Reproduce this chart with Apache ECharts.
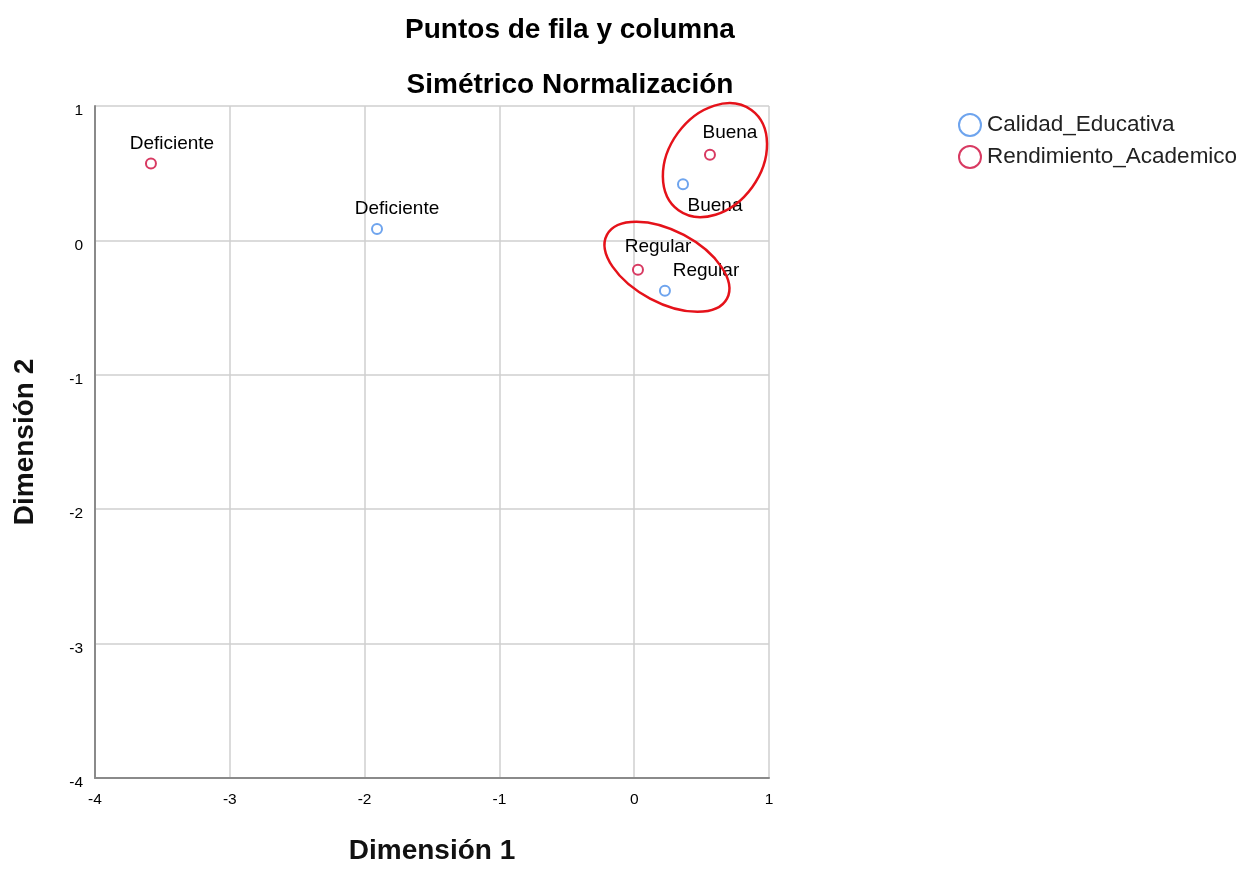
<!DOCTYPE html>
<html>
<head>
<meta charset="utf-8">
<script src="https://cdn.jsdelivr.net/npm/echarts@6/dist/echarts.min.js"></script>
<style>html,body{margin:0;padding:0;background:#fff;}#c{width:1251px;height:870px;}</style>
</head>
<body>
<div id="c"></div>
<script>
// ---- data ----
var titleLines = ['Puntos de fila y columna', 'Simétrico Normalización'];
var xAxisName = 'Dimensión 1';
var yAxisName = 'Dimensión 2';
var seriesNames = ['Calidad_Educativa', 'Rendimiento_Academico'];
var calidadLabels = ['Deficiente', 'Buena', 'Regular'];
var calidadX = [-1.908, 0.362, 0.228];
var calidadY = [0.084, 0.417, -0.374];
var rendLabels = ['Deficiente', 'Buena', 'Regular'];
var rendX = [-3.585, 0.562, 0.028];
var rendY = [0.572, 0.638, -0.219];
var xTicks = [-4, -3, -2, -1, 0, 1];
var yTicks = [-4, -3, -2, -1, 0, 1];
// annotation ellipses (centers in data units)
var ellipseCX = [0.599, 0.243];
var ellipseCY = [0.597, -0.196];

// ---- styles (label placement, ellipse shapes) ----
var calidadLabelOffsets = [[20, -20], [32, 21], [41, -20]];
var rendLabelOffsets = [[21, -20], [20, -22], [20, -23]];
var ellipseShapes = [{rx: 62, ry: 46, rot: 54}, {rx: 68, ry: 36, rot: -28}];

var BLUE = '#6ea4ee';
var RED = '#d83a62';
var FONT = 'Liberation Sans, Arial, sans-serif';

function buildPoints(xs, ys, labels, offsets) {
  return xs.map(function (x, i) {
    return {
      value: [x, ys[i]],
      name: labels[i],
      label: { offset: offsets[i] }
    };
  });
}

var chart = echarts.init(document.getElementById('c'), null, { renderer: 'canvas' });

var labelCfg = {
  show: true,
  position: 'inside',
  formatter: '{b}',
  color: '#000',
  textBorderWidth: 0,
  textBorderColor: 'transparent',
  fontFamily: FONT,
  fontSize: 19
};

var option = {
  backgroundColor: '#fff',
  animation: false,
  title: [
    { text: titleLines[0], left: 570, top: 16, textAlign: 'center', padding: 0,
      textStyle: { fontFamily: FONT, fontSize: 28, fontWeight: 'bold', color: '#000' } },
    { text: titleLines[1], left: 570, top: 71, textAlign: 'center', padding: 0,
      textStyle: { fontFamily: FONT, fontSize: 28, fontWeight: 'bold', color: '#000' } }
  ],
  legend: {
    data: seriesNames,
    orient: 'vertical',
    left: 958,
    top: 113,
    itemWidth: 22,
    itemHeight: 22,
    itemGap: 8,
    padding: 0,
    itemStyle: { opacity: 1, borderWidth: 2 },
    textStyle: { fontFamily: FONT, fontSize: 22.5, color: '#222', padding: [0, 0, 0, 1] }
  },
  grid: { left: 95, right: 482, top: 106, bottom: 87, containLabel: false },
  xAxis: {
    type: 'value', min: xTicks[0], max: xTicks[xTicks.length - 1], interval: 1,
    name: xAxisName, nameLocation: 'middle', nameGap: 59,
    nameTextStyle: { fontFamily: FONT, fontSize: 28, fontWeight: 'bold', color: '#111' },
    axisLine: { show: true, onZero: false, lineStyle: { color: '#8a8a8a', width: 2 } },
    axisTick: { show: false },
    axisLabel: { margin: 14, fontFamily: FONT, fontSize: 15.5, color: '#000' },
    splitLine: { show: true, lineStyle: { color: '#cfcfcf', width: 1.5 } }
  },
  yAxis: {
    type: 'value', min: yTicks[0], max: yTicks[yTicks.length - 1], interval: 1,
    name: yAxisName, nameLocation: 'middle', nameGap: 56,
    nameTextStyle: { fontFamily: FONT, fontSize: 28, fontWeight: 'bold', color: '#111' },
    axisLine: { show: true, onZero: false, lineStyle: { color: '#8a8a8a', width: 2 } },
    axisTick: { show: false },
    axisLabel: { margin: 12, fontFamily: FONT, fontSize: 15.5, color: '#000', verticalAlign: 'top', padding: [-3, 0, 0, 0] },
    splitLine: { show: true, lineStyle: { color: '#cfcfcf', width: 1.5 } }
  },
  series: [
    {
      name: seriesNames[0], type: 'scatter', symbol: 'emptyCircle', symbolSize: 10,
      itemStyle: { color: BLUE, borderColor: BLUE, borderWidth: 2, opacity: 1 },
      label: labelCfg,
      data: buildPoints(calidadX, calidadY, calidadLabels, calidadLabelOffsets),
      z: 3
    },
    {
      name: seriesNames[1], type: 'scatter', symbol: 'emptyCircle', symbolSize: 10,
      itemStyle: { color: RED, borderColor: RED, borderWidth: 2, opacity: 1 },
      label: labelCfg,
      data: buildPoints(rendX, rendY, rendLabels, rendLabelOffsets),
      z: 3
    },
    {
      name: 'annot', type: 'custom', silent: true, z: 5,
      data: ellipseCX.map(function (x, i) { return [x, ellipseCY[i]]; }),
      renderItem: function (params, api) {
        var p = api.coord([api.value(0), api.value(1)]);
        var s = ellipseShapes[params.dataIndex];
        return {
          type: 'ellipse',
          x: p[0], y: p[1],
          rotation: s.rot * Math.PI / 180,
          shape: { cx: 0, cy: 0, rx: s.rx, ry: s.ry },
          style: { fill: null, stroke: '#e5121a', lineWidth: 2.5 }
        };
      }
    }
  ]
};
chart.setOption(option);
</script>
</body>
</html>
